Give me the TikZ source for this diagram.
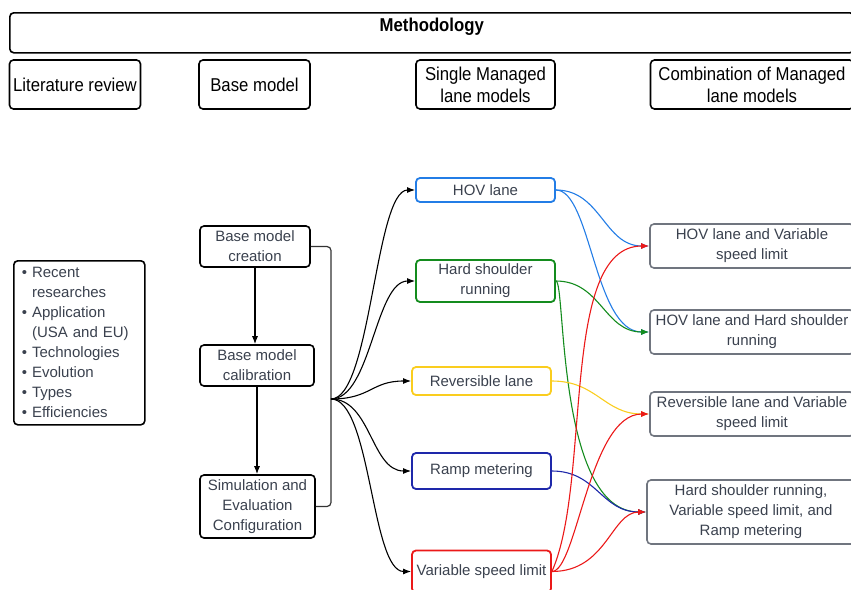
\documentclass[tikz,border=0pt]{standalone}
\usepackage{fontspec}
\setmainfont{Liberation Sans}
\newfontfamily\narrowfont[FakeStretch=0.9]{Liberation Sans}
\usepackage{xcolor}
\usetikzlibrary{arrows.meta}
\definecolor{mytext}{RGB}{58,65,78}
\definecolor{myblue}{RGB}{35,125,230}
\definecolor{mygreen}{RGB}{20,140,30}
\definecolor{myyellow}{RGB}{250,205,30}
\definecolor{mynavy}{RGB}{30,40,170}
\definecolor{myred}{RGB}{235,25,25}
\definecolor{mygray}{RGB}{112,117,127}

\begin{document}
\begin{tikzpicture}[x=1pt,y=-1pt,
head/.style={draw, line width=1.6pt, rounded corners=4pt, font=\narrowfont\fontsize{18.6}{22}\selectfont, align=center, minimum height=49pt, inner sep=0pt},
stage/.style={draw, line width=1.6pt, rounded corners=4pt, text=mytext, font=\fontsize{15}{20}\selectfont, align=center, inner sep=0pt},
lane/.style={stage, line width=1.8pt, minimum width=139pt},
combo/.style={stage, draw=mygray, minimum width=204pt},
flow/.style={-{Latex[length=8pt,width=6pt]}, line width=1.1pt}
]
\useasboundingbox (0,0) rectangle (851,589);

%title and column heads
\node (meth) [head, font=\narrowfont\bfseries\fontsize{18.6}{22}\selectfont, anchor=north west, minimum width=844pt, minimum height=40pt, text height=12pt, text depth=14pt] at (9,12) {Methodology};
\node (lit) [head, minimum width=131pt] at (75,84.5) {Literature review};
\node (base) [head, minimum width=111pt] at (254.5,84.5) {Base model};
\node (single) [head, minimum width=139pt] at (485.5,84.5) {Single Managed\\lane models};
\node (mix) [head, minimum width=203pt] at (752,84.5) {Combination of Managed\\lane models};

%literature topics
\node (topics) [stage, anchor=north west, text width=115pt, align=left, inner xsep=8pt, minimum height=164pt] at (13,260) {\textbullet\ Recent\\\phantom{\textbullet\ }researches\\\textbullet\ Application\\\phantom{\textbullet\ }(USA and EU)\\\textbullet\ Technologies\\\textbullet\ Evolution\\\textbullet\ Types\\\textbullet\ Efficiencies};

%base model steps
\node (create) [stage, minimum width=110pt, minimum height=41pt] at (255,246.5) {Base model\\creation};
\node (calib) [stage, minimum width=114pt, minimum height=41pt] at (257,365.5) {Base model\\calibration};
\node (simul) [stage, minimum width=115pt, minimum height=63pt] at (257.5,506.5) {Simulation and\\Evaluation\\Configuration};
\draw[flow] (create.south) -- (create.south |- calib.north);
\draw[flow] (calib.south) -- (calib.south |- simul.north);
\coordinate (fan) at (331,399);
\draw[line width=1.2pt, black!80, rounded corners=4pt] (create.east) -| (fan) |- (simul.east);

%single lanes
\node (hov) [lane, draw=myblue, minimum height=24pt] at (485.5,190) {HOV lane};
\node (hard) [lane, draw=mygreen, minimum height=42pt] at (485.5,281) {Hard shoulder\\running};
\node (rev) [lane, draw=myyellow, minimum height=28pt] at (481.5,381) {Reversible lane};
\node (ramp) [lane, draw=mynavy, minimum height=36pt] at (481.5,471) {Ramp metering};
\node (vsl) [lane, draw=myred, minimum height=42pt] at (481.5,571.5) {Variable speed limit};
\foreach \lanenode in {hov,hard,rev,ramp,vsl}
  \draw[flow] (fan) .. controls +(40,0) and +(-40,0) .. (\lanenode.west);

%combinations
\node (hovvsl) [combo, minimum height=44pt] at (752,246) {HOV lane and Variable\\speed limit};
\node (hovhard) [combo, minimum height=44pt] at (752,332) {HOV lane and Hard shoulder\\running};
\node (revvsl) [combo, minimum height=44pt] at (752,414) {Reversible lane and Variable\\speed limit};
\node (trio) [combo, minimum width=208pt, minimum height=64pt] at (751,512) {Hard shoulder running,\\Variable speed limit, and\\Ramp metering};

\draw[flow, myblue] (hov.east) .. controls +(45,0) and +(-45,0) .. (hovvsl.west);
\draw[flow, myblue] (hov.east) .. controls +(35,0) and +(-55,0) .. (hovhard.west);
\draw[flow, mygreen] (hard.east) .. controls +(45,0) and +(-45,0) .. (hovhard.west);
\draw[flow, mygreen] (hard.east) .. controls +(10,0) and +(-90,0) .. (trio.west);
\draw[flow, myyellow] (rev.east) .. controls +(45,0) and +(-45,0) .. (revvsl.west);
\draw[flow, mynavy] (ramp.east) .. controls +(45,0) and +(-45,0) .. (trio.west);
\draw[flow, myred] (vsl.east) .. controls +(40,-90) and +(-90,0) .. (hovvsl.west);
\draw[flow, myred] (vsl.east) .. controls +(25,0) and +(-60,0) .. (revvsl.west);
\draw[flow, myred] (vsl.east) .. controls +(55,0) and +(-35,0) .. (trio.west);

\end{tikzpicture}
\end{document}
